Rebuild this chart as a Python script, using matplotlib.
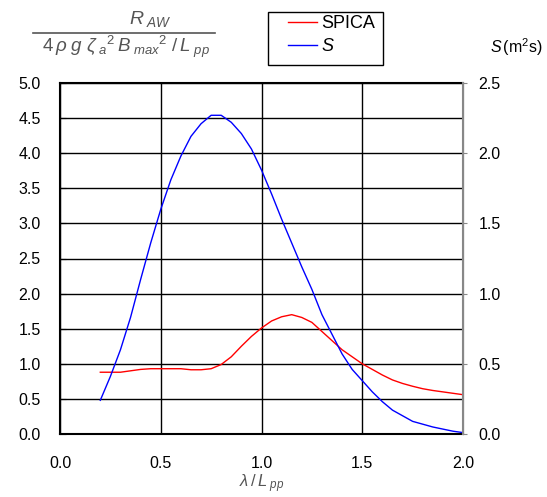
import matplotlib.pyplot as plt
from matplotlib.lines import Line2D
from matplotlib.patches import Rectangle
import numpy as np

plt.rcParams['font.family'] = ['Liberation Sans', 'DejaVu Sans']
plt.rcParams['mathtext.fontset'] = 'custom'
plt.rcParams['mathtext.it'] = 'Liberation Sans:italic'
plt.rcParams['mathtext.rm'] = 'Liberation Sans'

# wave length ratio lambda / Lpp
lam = [0.20, 0.25, 0.30, 0.35, 0.40, 0.45, 0.50, 0.55, 0.60, 0.65,
       0.70, 0.75, 0.80, 0.85, 0.90, 0.95, 1.00, 1.05, 1.10, 1.15,
       1.20, 1.25, 1.30, 1.35, 1.40, 1.45, 1.50, 1.55, 1.60, 1.65,
       1.70, 1.75, 1.80, 1.85, 1.90, 1.95, 2.00]

# added resistance (left axis)
spica = [0.88, 0.88, 0.88, 0.90, 0.92, 0.93, 0.93, 0.93, 0.93, 0.915,
         0.915, 0.93, 0.99, 1.10, 1.25, 1.39, 1.51, 1.61, 1.67, 1.70,
         1.66, 1.59, 1.46, 1.33, 1.20, 1.10, 1.00, 0.92, 0.84, 0.77,
         0.72, 0.68, 0.645, 0.62, 0.60, 0.58, 0.56]

# wave spectrum S (right axis)
spec = [0.24, 0.41, 0.60, 0.83, 1.10, 1.36, 1.60, 1.81, 1.98, 2.12,
        2.21, 2.27, 2.27, 2.22, 2.14, 2.03, 1.88, 1.71, 1.53, 1.36,
        1.19, 1.03, 0.85, 0.71, 0.57, 0.46, 0.38, 0.30, 0.23, 0.17,
        0.13, 0.09, 0.07, 0.05, 0.035, 0.02, 0.01]

W, H = 547, 497
fig = plt.figure(figsize=(W/100, H/100), dpi=100)
ax = fig.add_axes([60/W, 1-434/H, 403/W, 351/H])
ax2 = ax.twinx()

ax.plot(lam, spica, color='red', lw=1.0)
ax2.plot(lam, spec, color='blue', lw=1.0)

ax.set_xlim(0, 2.0)
ax.set_ylim(0, 5.0)
ax2.set_ylim(0, 2.5)
ax.set_xticks(np.arange(0, 2.01, 0.5))
ax.set_yticks(np.arange(0, 5.01, 0.5))
ax2.set_yticks(np.arange(0, 2.51, 0.5))
ax.xaxis.set_major_formatter(plt.FormatStrFormatter('%.1f'))
ax.yaxis.set_major_formatter(plt.FormatStrFormatter('%.1f'))
ax2.yaxis.set_major_formatter(plt.FormatStrFormatter('%.1f'))

ax.grid(True, color='black', lw=1.0)
ax.set_axisbelow(True)
for s in ['left', 'bottom', 'top']:
    ax.spines[s].set_linewidth(1.5)
    ax.spines[s].set_color('black')
ax2.spines['right'].set_color('#888888')
ax2.spines['right'].set_linewidth(1.5)
ax2.spines['left'].set_visible(False)
ax2.spines['top'].set_visible(False)
ax2.spines['bottom'].set_visible(False)

ax.tick_params(axis='x', length=0, pad=16, labelsize=11.5)
ax.tick_params(axis='y', length=4, direction='in', pad=14, labelsize=11.5)
ax2.tick_params(axis='y', length=3, color='#888888', pad=8, labelsize=11.5)

# legend (frame drawn separately)
h1 = Line2D([], [], color='red', lw=1.0)
h2 = Line2D([], [], color='blue', lw=1.0)
fig.legend([h1, h2], ['SPICA', '$S$'], loc='upper left',
           bbox_to_anchor=(288/W, 1-15/H), fontsize=13,
           frameon=False, handlelength=1.6, handletextpad=0.25,
           borderpad=0, labelspacing=0.35, borderaxespad=0)
fig.add_artist(Rectangle((268/W, 1-65/H), 115/W, 53/H, fill=False,
                         edgecolor='black', lw=1.0,
                         transform=fig.transFigure))

# left axis label as fraction
tc = '#555555'
fig.text(150/W, 1-19/H, r'$R_{\ AW}$', ha='center', va='center',
         fontsize=14, color=tc)
fig.add_artist(Line2D([33/W, 215/W], [1-33/H, 1-33/H], color=tc, lw=1.2))
fig.text(126/W, 1-47/H,
         r'$4\,\rho\ g\ \zeta_{\ a}{}^{2}\,B_{\ max}{}^{2}\ /\,L_{\ pp}$',
         ha='center', va='center', fontsize=13.5, color=tc)

fig.text(516/W, 1-47/H, r'$S\,$(m$^2$s)', ha='center', va='center',
         fontsize=11.5)
fig.text(262/W, 1-484/H, r'$\lambda\,/\,L_{\ pp}$', ha='center',
         va='center', fontsize=12, color=tc)

fig.savefig('out.png', dpi=100)
